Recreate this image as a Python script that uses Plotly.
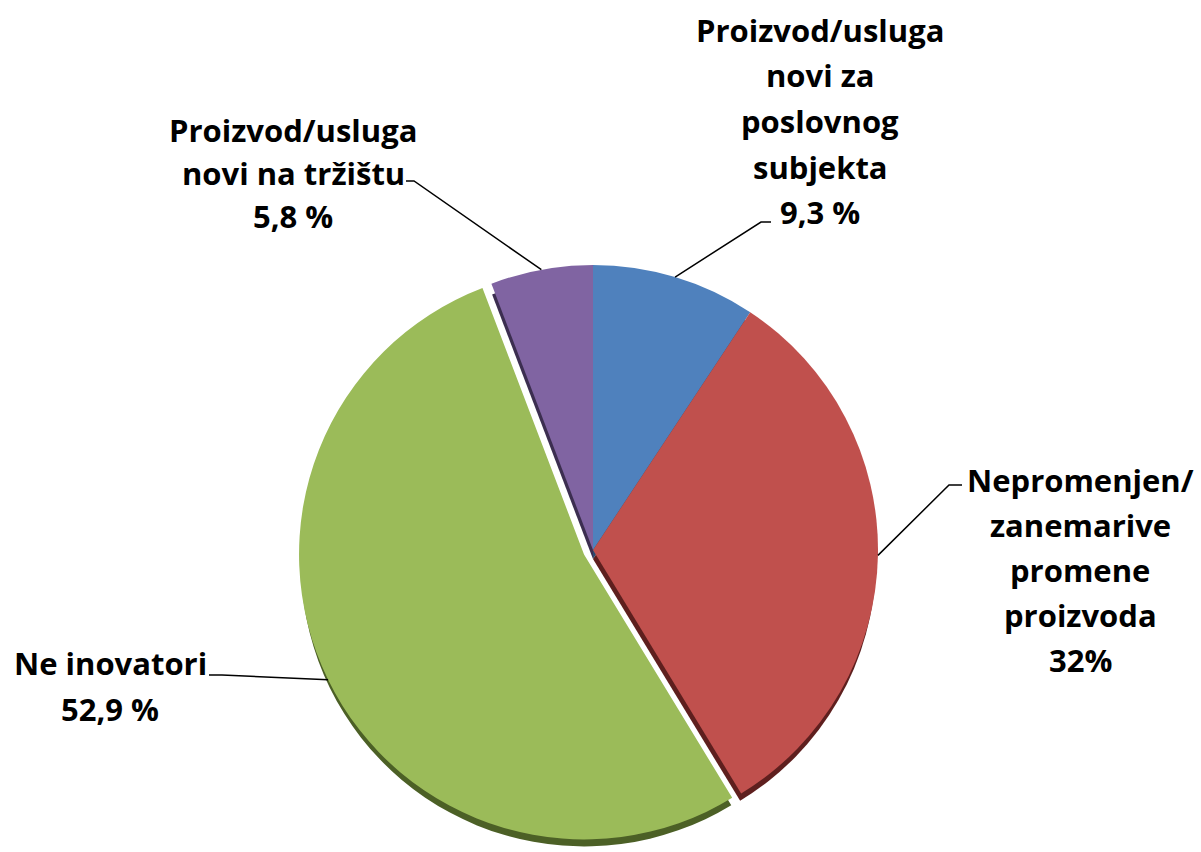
import math
import plotly.graph_objects as go

# ---- data ----
categories = [
    "Proizvod/usluga novi za poslovnog subjekta",
    "Nepromenjen/zanemarive promene proizvoda",
    "Ne inovatori",
    "Proizvod/usluga novi na tržištu",
]
values = [9.3, 32, 52.9, 5.8]
label_lines = [
    ["Proizvod/usluga", "novi za", "poslovnog", "subjekta", "9,3 %"],
    ["Nepromenjen/", "zanemarive", "promene", "proizvoda", "32%"],
    ["Ne inovatori", "52,9 %"],
    ["Proizvod/usluga", "novi na tržištu", "5,8 %"],
]

# ---- styles / layout ----
W, H = 1201, 852
colors = ["#4F81BD", "#C0504D", "#9BBB59", "#8064A2"]
dark = ["#2B4A70", "#5E1F1E", "#4C6026", "#3C2E50"]
pulls = [0, 0, 0.035, 0]
CX, CY, R = 593, 550, 285
DEPTH = 11
maxpull = max(pulls)
half = R * (1 + maxpull)

def px(x):
    return x / W

def py(y):
    return 1 - y / H

def domain(dy=0):
    y0 = max(0.0, py(CY + dy + half))
    y1 = min(1.0, py(CY + dy - half))
    return dict(x=[px(CX - half), px(CX + half)], y=[y0, y1])

fig = go.Figure()
# "3D" depth: darker copy slightly lower
fig.add_trace(go.Pie(labels=categories, values=values, sort=False,
                     direction="clockwise", rotation=0, pull=pulls,
                     marker=dict(colors=dark, line=dict(width=0)),
                     textinfo="none", hoverinfo="skip", showlegend=False,
                     domain=domain(DEPTH)))
fig.add_trace(go.Pie(labels=categories, values=values, sort=False,
                     direction="clockwise", rotation=0, pull=pulls,
                     marker=dict(colors=colors, line=dict(width=0)),
                     textinfo="none", showlegend=False,
                     domain=domain(0)))

# label block positions (pixel centre x, first-line y, line step)
label_pos = [(820, 30, 45.5), (1080, 480, 45), (110, 663, 46), (293, 130, 43)]
# elbow of leader line: (text end x, y, elbow x)
elbows = [(771, 222, 761), (962, 485, 949), (209, 675, 222), (406, 181, 414)]

annotations = []
shapes = []
total = sum(values)
cum = 0
for i, v in enumerate(values):
    mid = (cum + v / 2) / total * 2 * math.pi
    cum += v
    ox = math.sin(mid) * R * pulls[i]
    oy = -math.cos(mid) * R * pulls[i]
    rx = CX + ox + math.sin(mid) * R
    ry = CY + oy - math.cos(mid) * R
    lx, lyc, step = label_pos[i]
    for j, t in enumerate(label_lines[i]):
        annotations.append(dict(
            x=px(lx), y=py(lyc + j * step), xref="paper", yref="paper",
            text=t, showarrow=False, xanchor="center", yanchor="middle",
            font=dict(family="Open Sans", size=31, color="black", weight="bold")))
    ex, ey, elx = elbows[i]
    shapes.append(dict(
        type="path", xref="paper", yref="paper",
        path=f"M {px(ex)} {py(ey)} L {px(elx)} {py(ey)} L {px(rx)} {py(ry)}",
        line=dict(color="black", width=1.5)))

fig.update_layout(width=W, height=H, margin=dict(l=0, r=0, t=0, b=0),
                  paper_bgcolor="white", plot_bgcolor="white",
                  annotations=annotations, shapes=shapes)
fig.write_html("out.html", config={"displayModeBar": False},
               post_script="document.body.style.margin='0';")
